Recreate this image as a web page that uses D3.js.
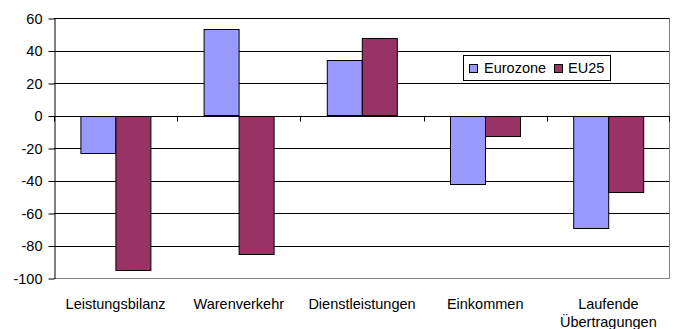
<!DOCTYPE html>
<html>
<head>
<meta charset="utf-8">
<script src="https://cdn.jsdelivr.net/npm/d3@7"></script>
<style>
  html, body { margin: 0; padding: 0; background: #fff; }
  svg { display: block; }
  text { font-family: "Liberation Sans", Arial, sans-serif; fill: #000; }
</style>
</head>
<body>
<svg id="chart" width="675" height="329"></svg>
<script>
// Balance components, Eurozone vs. EU25
const categories = ["Leistungsbilanz", "Warenverkehr", "Dienstleistungen", "Einkommen", "Laufende\nÜbertragungen"];
const seriesNames = ["Eurozone", "EU25"];
const eurozone = [-23, 53, 34, -42, -69];
const eu25 = [-94.5, -85, 47.5, -12, -46.5];
const yTicks = [60, 40, 20, 0, -20, -40, -60, -80, -100];
const colors = ["#9999FF", "#993366"];

const svg = d3.select("#chart");
const plotLeft = 54, plotRight = 670, plotTop = 18, plotBottom = 278;
const fontSize = "14.5px";

const x = d3.scaleBand().domain(categories).range([plotLeft, plotRight]).paddingInner(0).paddingOuter(0);
const y = d3.scaleLinear().domain([-100, 60]).range([plotBottom, plotTop]);
const barW = x.bandwidth() / 3.5;
const xs = d3.scaleBand().domain(seriesNames).range([0, barW * 2]);

// Gridlines
svg.append("g").selectAll("line").data(yTicks.filter(d => d !== -100)).join("line")
  .attr("x1", plotLeft).attr("x2", plotRight)
  .attr("y1", d => Math.round(y(d)) + 0.5).attr("y2", d => Math.round(y(d)) + 0.5)
  .attr("stroke", "#000").attr("stroke-width", 1);

// Plot area border (right & bottom)
svg.append("path")
  .attr("d", `M${plotRight - 0.5},${Math.round(y(60)) + 0.5}V${Math.round(y(-100)) + 0.5}H${plotLeft}`)
  .attr("fill", "none").attr("stroke", "#808080");

// Bars
const rows = categories.map((c, i) => ({ c, vals: [eurozone[i], eu25[i]] }));
const groups = svg.append("g").selectAll("g").data(rows).join("g")
  .attr("transform", d => `translate(${x(d.c) + (x.bandwidth() - barW * 2) / 2},0)`);
groups.selectAll("rect").data(d => d.vals.map((v, j) => ({ v, s: seriesNames[j], j }))).join("rect")
  .attr("x", d => Math.round(xs(d.s)) + 0.5)
  .attr("width", Math.round(barW))
  .attr("y", d => Math.round(y(Math.max(0, d.v))) + 0.5)
  .attr("height", d => Math.round(Math.abs(y(d.v) - y(0))))
  .attr("fill", d => colors[d.j])
  .attr("stroke", "#000").attr("stroke-width", 1);

// Y axis (plain hyphen-minus labels)
const yAxis = d3.axisLeft(y).tickValues(yTicks).tickFormat(d => String(d))
  .tickSize(6).tickPadding(6).tickSizeOuter(0);
const yg = svg.append("g").attr("transform", `translate(${plotLeft + 0.5},0.5)`).call(yAxis);
yg.attr("font-family", null).attr("font-size", null);
yg.select(".domain").attr("stroke", "#000");
yg.selectAll(".tick line").attr("stroke", "#000");
yg.selectAll(".tick text").style("font-size", fontSize).attr("fill", "#000");

// X axis at zero with category tick marks
const y0 = Math.round(y(0)) + 0.5;
svg.append("line").attr("x1", plotLeft).attr("x2", plotRight).attr("y1", y0).attr("y2", y0).attr("stroke", "#000");
svg.append("g").selectAll("line").data(d3.range(categories.length + 1)).join("line")
  .attr("x1", i => Math.round(plotLeft + i * x.bandwidth()) + 0.5 - (i === categories.length ? 1 : 0))
  .attr("x2", i => Math.round(plotLeft + i * x.bandwidth()) + 0.5 - (i === categories.length ? 1 : 0))
  .attr("y1", y0).attr("y2", y0 + 5).attr("stroke", "#000");

// Category labels
const lab = svg.append("g").selectAll("text").data(categories).join("text")
  .attr("x", d => x(d) + x.bandwidth() / 2)
  .attr("y", 308.5)
  .attr("text-anchor", "middle")
  .style("font-size", fontSize);
lab.selectAll("tspan").data(d => d.split("\n")).join("tspan")
  .attr("x", function () { return d3.select(this.parentNode).attr("x"); })
  .attr("dy", (d, i) => i === 0 ? 0 : 18.5)
  .text(d => d);

// Legend
const lg = svg.append("g").attr("transform", "translate(463.5,55.5)");
lg.append("rect").attr("width", 147).attr("height", 25).attr("fill", "#fff").attr("stroke", "#000");
const items = [{ n: seriesNames[0], x: 6, tx: 20.5 }, { n: seriesNames[1], x: 91, tx: 104.5 }];
items.forEach((it, i) => {
  lg.append("rect").attr("x", it.x).attr("y", 9).attr("width", 8).attr("height", 8)
    .attr("fill", colors[i]).attr("stroke", "#000");
  lg.append("text").attr("x", it.tx).attr("y", 17.5).style("font-size", fontSize).text(it.n);
});
</script>
</body>
</html>
